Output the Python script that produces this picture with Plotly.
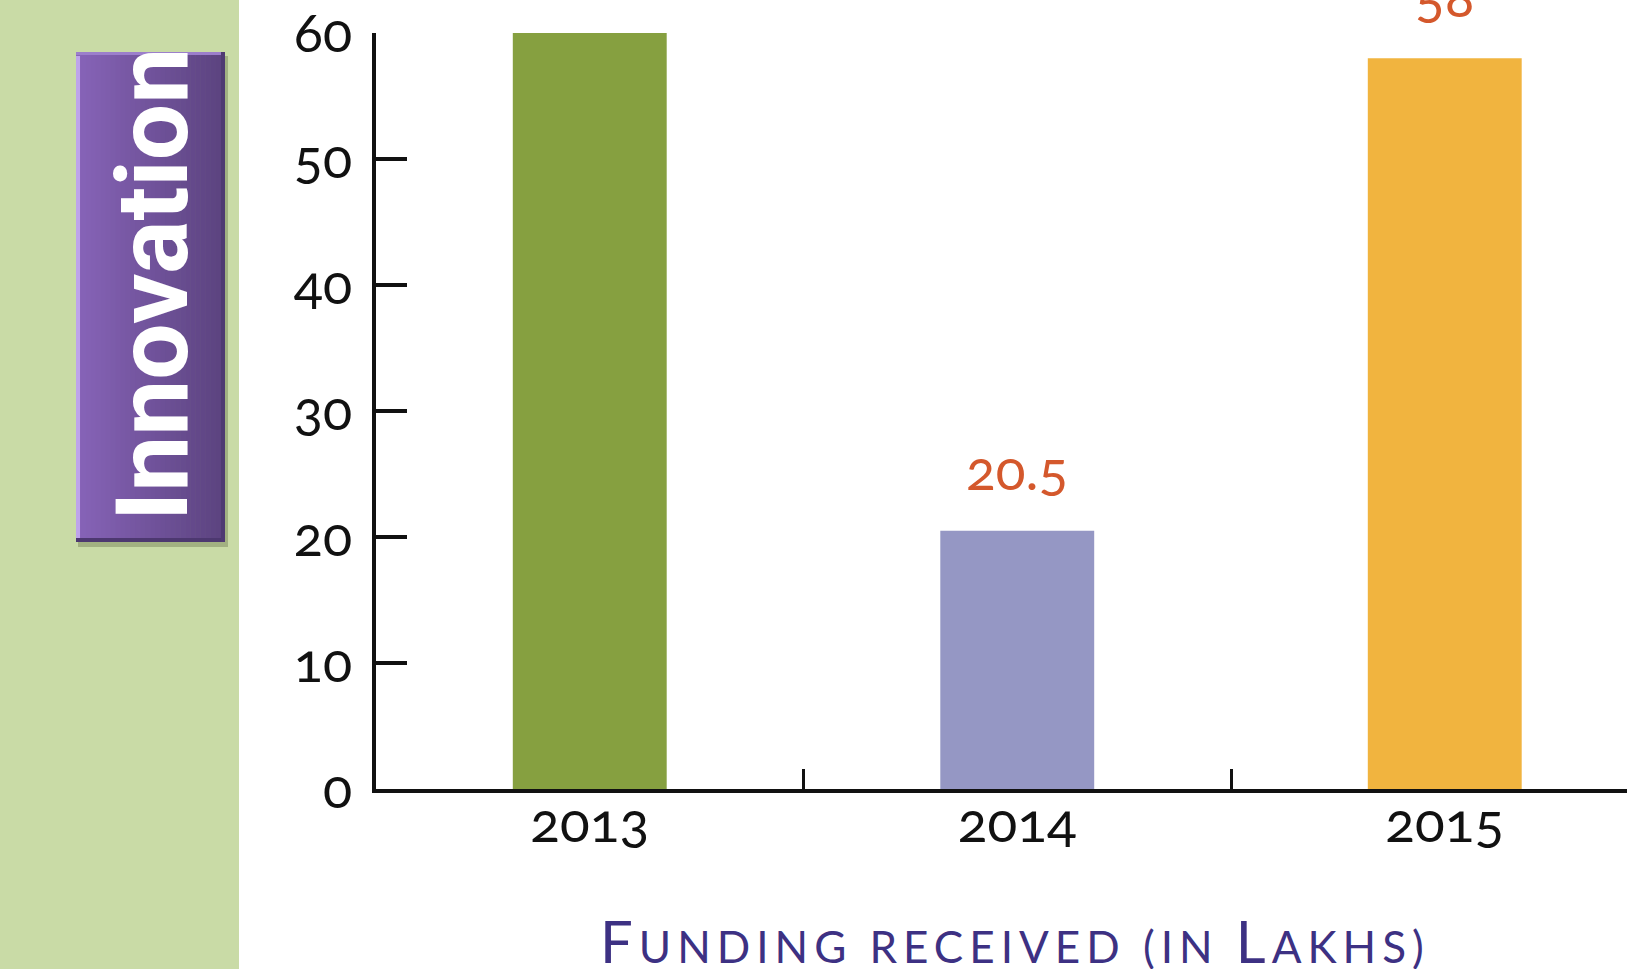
import plotly.graph_objects as go

# ---- data ----
years = ["2013", "2014", "2015"]
funding = [60, 20.5, 58]
bar_colors = ["#86a040", "#9597c4", "#f1b43f"]
label_texts = ["60", "20.5", "58"]
y_ticks = [0, 10, 20, 30, 40, 50, 60]
side_title = "Innovation"
x_title = "Funding received (in Lakhs)"

W, H = 1627, 969
L, R, T, B = 376, 0, 33, 180
PW, PH = W - L - R, H - T - B

def px_x(p):
    return (p - L) / PW

def px_y(p):
    return (H - B - p) / PH

def onum(s):
    return "<span style='font-variant-numeric:oldstyle-nums'>%s</span>" % s

def small_caps(s, big, small, spacing):
    out = []
    for word in s.split(" "):
        if word[0].isalpha() and word[0].isupper():
            out.append("<span style='font-size:%dpx'>%s</span>%s" % (big, word[0], word[1:].upper()))
        else:
            out.append(word.upper())
    return "<span style='letter-spacing:%dpx'>%s</span>" % (spacing, " ".join(out))

fig = go.Figure()
fig.add_trace(go.Bar(
    x=years, y=funding, marker=dict(color=bar_colors, line=dict(width=0)),
    width=0.36, hoverinfo="x+y", showlegend=False,
))

shapes = []
# left green panel
shapes.append(dict(type="rect", xref="paper", yref="paper",
                   x0=px_x(-5), x1=px_x(239), y0=px_y(H + 5), y1=px_y(-5),
                   fillcolor="#c9dba6", line=dict(width=0), layer="below"))
# purple box shadow
shapes.append(dict(type="rect", xref="paper", yref="paper",
                   x0=px_x(78), x1=px_x(228), y0=px_y(547), y1=px_y(56),
                   fillcolor="rgba(90,100,60,0.35)", line=dict(width=0), layer="below"))
# purple gradient box
bx0, bx1, by0, by1 = 76, 225, 52, 542
n = 30
c0 = (0x87, 0x64, 0xb8)
c1 = (0x5c, 0x43, 0x80)
for i in range(n):
    t = i / (n - 1)
    c = tuple(int(c0[k] + (c1[k] - c0[k]) * t) for k in range(3))
    xa = bx0 + (bx1 - bx0) * i / n
    xb = bx0 + (bx1 - bx0) * (i + 1) / n + 0.6
    shapes.append(dict(type="rect", xref="paper", yref="paper",
                       x0=px_x(xa), x1=px_x(min(xb, bx1)), y0=px_y(by1), y1=px_y(by0),
                       fillcolor="rgb(%d,%d,%d)" % c, line=dict(width=0), layer="below"))
# bevel edges
shapes.append(dict(type="rect", xref="paper", yref="paper",
                   x0=px_x(bx0), x1=px_x(bx0 + 4), y0=px_y(by1 - 4), y1=px_y(by0 + 4),
                   fillcolor="#bea4ea", line=dict(width=0), layer="below"))
shapes.append(dict(type="rect", xref="paper", yref="paper",
                   x0=px_x(bx0), x1=px_x(bx1), y0=px_y(by0 + 3), y1=px_y(by0),
                   fillcolor="#9c7fcb", line=dict(width=0), layer="below"))
shapes.append(dict(type="rect", xref="paper", yref="paper",
                   x0=px_x(bx0), x1=px_x(bx1), y0=px_y(by1), y1=px_y(by1 - 4),
                   fillcolor="#4d3870", line=dict(width=0), layer="below"))
shapes.append(dict(type="rect", xref="paper", yref="paper",
                   x0=px_x(bx1 - 4), x1=px_x(bx1), y0=px_y(by1), y1=px_y(by0),
                   fillcolor="#4f3a72", line=dict(width=0), layer="below"))

annotations = []
for i, (v, txt) in enumerate(zip(funding, label_texts)):
    annotations.append(dict(x=i, y=v, xref="x", yref="y", text=onum(txt), showarrow=False,
                            xanchor="center", yanchor="bottom", yshift=27,
                            font=dict(family="Lato", size=55, color="#d4582c")))

annotations.append(dict(xref="paper", yref="paper", x=px_x(152), y=px_y(285),
                        text=side_title, textangle=-90, showarrow=False,
                        xanchor="center", yanchor="middle",
                        font=dict(family="Roboto", size=100, color="white", weight=700)))

annotations.append(dict(xref="paper", yref="paper", x=px_x(1015), y=px_y(941),
                        text=small_caps(x_title, 58, 44, 6), showarrow=False,
                        xanchor="center", yanchor="middle",
                        font=dict(family="Lato", size=44, color="#3d3183")))

fig.update_layout(
    width=W, height=H,
    margin=dict(l=L, r=R, t=T, b=B, pad=0),
    paper_bgcolor="white", plot_bgcolor="white",
    shapes=shapes, annotations=annotations,
    xaxis=dict(type="category", categoryorder="array", categoryarray=years,
               tickvals=years, ticktext=[onum(y) for y in years],
               range=[-0.5, -0.5 + PW / 427.5],
               showline=True, linewidth=4, linecolor="#111111",
               ticks="inside", tickson="boundaries", ticklen=20, tickwidth=3,
               tickcolor="#111111", showgrid=False, zeroline=False,
               tickfont=dict(family="Lato", size=55, color="#111111"),
               ticklabelstandoff=-17, ticklabeloverflow="allow"),
    yaxis=dict(range=[0, 60], tickvals=y_ticks, ticktext=[onum(v) for v in y_ticks],
               showline=True, linewidth=4, linecolor="#111111",
               ticks="inside", ticklen=31, tickwidth=4, tickcolor="#111111",
               showgrid=False, zeroline=False,
               tickfont=dict(family="Lato", size=54, color="#111111"),
               ticklabelstandoff=9, ticklabeloverflow="allow"),
)

fig.write_html("out.html", config={"displayModeBar": False},
               post_script="document.body.style.margin='0';document.body.style.overflow='hidden';")
